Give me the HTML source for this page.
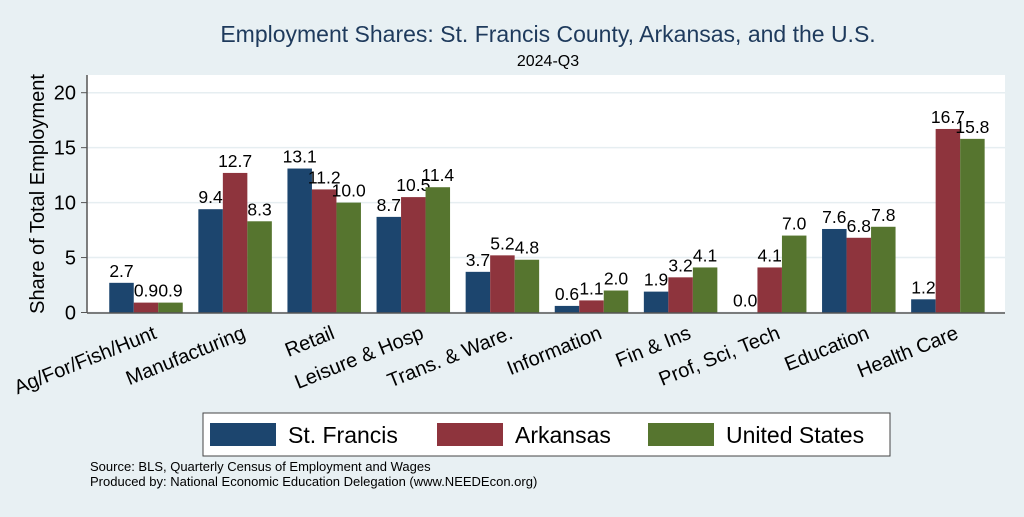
<!DOCTYPE html>
<html><head><meta charset="utf-8"><style>
body{margin:0;background:#e8f0f3;}
svg text{font-family:"Liberation Sans",Arial,sans-serif;}
</style></head><body>
<svg width="1024" height="512" xmlns="http://www.w3.org/2000/svg">
<rect width="1024" height="512" fill="#e8f0f3"/>
<text x="548" y="42" font-size="23" fill="#1e3a5c" text-anchor="middle">Employment Shares: St. Francis County, Arkansas, and the U.S.</text>
<text x="548" y="66" font-size="16" fill="#000" text-anchor="middle">2024-Q3</text>
<rect x="87" y="75" width="918" height="238" fill="#fff"/>
<g id="grid"></g>
<g id="bars"></g>
<line x1="87" y1="75" x2="87" y2="313" stroke="#555" stroke-width="1.5"/>
<line x1="87" y1="313" x2="1005" y2="313" stroke="#555" stroke-width="1.5"/>
<text transform="translate(44,194) rotate(-90)" font-size="20" text-anchor="middle">Share of Total Employment</text>
<g>
<rect x="203" y="413" width="687" height="43" fill="#fff" stroke="#444" stroke-width="1"/>
<rect x="210" y="423" width="66" height="23" fill="#1c456e"/>
<text x="288" y="443" font-size="23">St. Francis</text>
<rect x="437" y="423" width="66" height="23" fill="#8e343d"/>
<text x="515" y="443" font-size="23">Arkansas</text>
<rect x="648" y="423" width="66" height="23" fill="#56752f"/>
<text x="726" y="443" font-size="23">United States</text>
</g>
<text x="90" y="471" font-size="13">Source: BLS, Quarterly Census of Employment and Wages</text>
<text x="90" y="486" font-size="13">Produced by: National Economic Education Delegation (www.NEEDEcon.org)</text>
</svg>
<script>
const categories=["Ag/For/Fish/Hunt","Manufacturing","Retail","Leisure & Hosp","Trans. & Ware.","Information","Fin & Ins","Prof, Sci, Tech","Education","Health Care"];
const stFrancis=[2.7,9.4,13.1,8.7,3.7,0.6,1.9,0.0,7.6,1.2];
const arkansas=[0.9,12.7,11.2,10.5,5.2,1.1,3.2,4.1,6.8,16.7];
const unitedStates=[0.9,8.3,10.0,11.4,4.8,2.0,4.1,7.0,7.8,15.8];
const yTicks=[0,5,10,15,20];
const NS="http://www.w3.org/2000/svg";
const y=v=>312.5-v*10.99;
const xc=i=>146+i*89.1;
const bw=24.5;
const grid=document.getElementById('grid'),bars=document.getElementById('bars');
function mk(tag,attrs,parent){const e=document.createElementNS(NS,tag);for(const k in attrs)e.setAttribute(k,attrs[k]);parent.appendChild(e);return e;}
yTicks.forEach(t=>{
 const g=mk('line',{x1:87,x2:1005,y1:y(t),y2:y(t),stroke:'#e6eef1','stroke-width':1.5},grid);
 
 
 const tk=mk('line',{x1:81,x2:87,y1:y(t),y2:y(t),stroke:'#555'},grid);
 
 
 const tx=mk('text',{x:76,y:y(t)+7,'font-size':20,'text-anchor':'end'},grid);
 tx.textContent=t;
 
 
});
const series=[[stFrancis,'#1c456e','st-francis'],[arkansas,'#8e343d','arkansas'],[unitedStates,'#56752f','united-states']];
categories.forEach((c,i)=>{
 series.forEach(([vals,col,nm],j)=>{
  const x0=xc(i)-1.5*bw+j*bw, v=vals[i];
  const r=mk('rect',{x:x0,y:y(v),width:bw,height:312.5-y(v),fill:col},bars);
  
  
  const t=mk('text',{x:x0+bw/2,y:y(v)-6,'font-size':17.5,'text-anchor':'middle'},bars);
  t.textContent=v.toFixed(1);
  
  
 });
 const lx=xc(i)+6, ly=324;
 const l=mk('text',{x:lx,y:ly,'font-size':20,'text-anchor':'end',transform:`rotate(-22 ${lx} ${ly})`,dy:'0.75em'},bars);
 l.textContent=c;
 
 
});
</script>
</body></html>
